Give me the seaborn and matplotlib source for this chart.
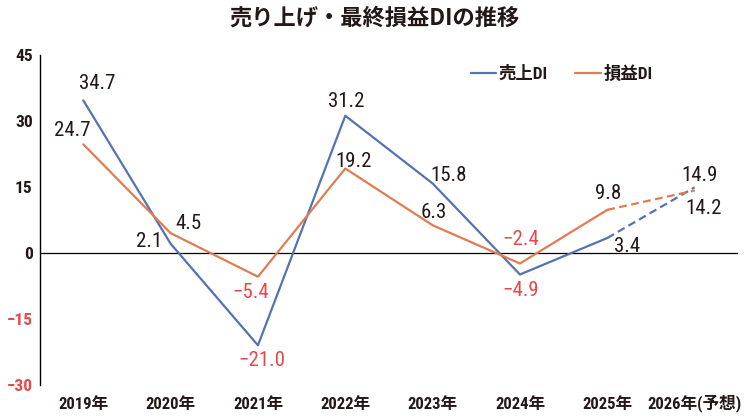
import pandas as pd
import matplotlib
matplotlib.use("Agg")
import matplotlib.pyplot as plt
import seaborn as sns

years = ["2019年", "2020年", "2021年", "2022年", "2023年", "2024年", "2025年", "2026年(予想)"]
sales_di = [34.7, 2.1, -21.0, 31.2, 15.8, -4.9, 3.4, 14.9]
profit_di = [24.7, 4.5, -5.4, 19.2, 6.3, -2.4, 9.8, 14.2]
yticks = [-30, -15, 0, 15, 30, 45]

# label offsets in pixels (dx, dy), dy up
sales_off = [(14, 17), (-22, 2), (4, -15), (1, 14), (16, 8), (1, -16), (20, -9), (5, 12)]
profit_off = [(-11, 14), (18, 10), (-7, -16), (8, 7), (1, 13), (1, 24), (1, 16), (9, -18)]

BLUE = "#5572b3"
ORANGE = "#e17c52"
RED = "#e8474b"
DARK = "#231815"
NUM_FONT = ["Roboto Condensed", "Noto Sans CJK JP", "DejaVu Sans"]
JP_FONT = ["Noto Sans CJK JP", "DejaVu Sans"]

sns.set_theme(style="white")
plt.rcParams["font.family"] = NUM_FONT

df = pd.DataFrame({"x": range(len(years)), "sales": sales_di, "profit": profit_di})
solid = df.iloc[:7]
dashed = df.iloc[6:]

fig = plt.figure(figsize=(7.48, 4.17), dpi=100)
ax = fig.add_axes([0.053, 0.077, 0.934, 0.791])

lw = 1.6
sns.lineplot(data=solid, x="x", y="sales", ax=ax, color=BLUE, lw=lw, label="売上DI")
sns.lineplot(data=solid, x="x", y="profit", ax=ax, color=ORANGE, lw=lw, label="損益DI")
sns.lineplot(data=dashed, x="x", y="sales", ax=ax, color=BLUE, lw=lw, ls=(0, (3.5, 2)), legend=False)
sns.lineplot(data=dashed, x="x", y="profit", ax=ax, color=ORANGE, lw=lw, ls=(0, (3.5, 2)), legend=False)

ax.axhline(0, color="black", lw=0.9, zorder=0)

px = 0.72
for vals, offs in ((sales_di, sales_off), (profit_di, profit_off)):
    for i, (v, (dx, dy)) in enumerate(zip(vals, offs)):
        txt = f"{v:.1f}".replace("-", "−")
        ax.annotate(txt, (i, v), xytext=(dx * px, dy * px), textcoords="offset points",
                    ha="center", va="center", fontsize=15,
                    color=RED if v < 0 else DARK)

ax.set_xlim(-0.5, 7.5)
ax.set_ylim(-30, 45)
ax.set_yticks(yticks)
ax.set_yticklabels([str(t).replace("-", "−") for t in yticks], fontsize=12.5, fontweight="bold")
for lab, t in zip(ax.get_yticklabels(), yticks):
    lab.set_color(RED if t < 0 else DARK)
ax.set_xticks(range(len(years)))
ax.set_xticklabels(years, fontsize=12, fontweight="bold", color=DARK)
for lab in ax.get_xticklabels():
    lab.set_va("baseline")
ax.tick_params(axis="x", length=0, pad=17)
ax.tick_params(axis="y", length=0, pad=5)
ax.set_xlabel("")
ax.set_ylabel("")

for s in ("top", "right", "bottom"):
    ax.spines[s].set_visible(False)
ax.spines["left"].set_color("black")
ax.spines["left"].set_linewidth(1)

leg = ax.legend(loc="center left", bbox_to_anchor=(0.617, 0.945), ncol=2, frameon=False,
                handlelength=1.45, handletextpad=0.15, columnspacing=1.6,
                borderpad=0, borderaxespad=0,
                prop={"family": NUM_FONT, "size": 12.5, "weight": "bold"})
for t in leg.get_texts():
    t.set_color(DARK)

fig.text(0.5, 0.957, "売り上げ・最終損益DIの推移", ha="center", va="center", fontsize=16,
         fontweight="bold", color=DARK, family=JP_FONT)

fig.savefig("out.png", dpi=100)
